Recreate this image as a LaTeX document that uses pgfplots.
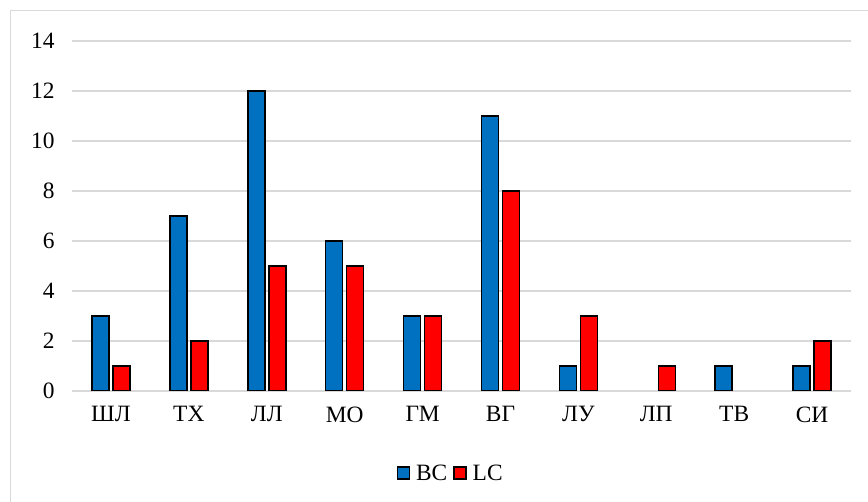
\documentclass[border=0pt]{standalone}
\usepackage{pgfplots}
\pgfplotsset{compat=1.18}
\usepackage{fontspec}
\setmainfont{Liberation Serif}
\definecolor{bcblue}{RGB}{0,112,192}
\definecolor{lcred}{RGB}{255,0,0}
\definecolor{gridgray}{RGB}{217,217,217}
\newcommand{\chartfont}{\fontsize{23.5}{28}\selectfont}
\begin{document}
\begin{tikzpicture}[x=1bp,y=1bp]
\useasboundingbox (0,0) rectangle (868,502);
\draw[gridgray, line width=1bp] (10,0) -- (10,491) -- (868,491);
\begin{axis}[
  at={(72bp,111bp)}, anchor=south west,
  scale only axis, width=779bp, height=350bp,
  ybar=4bp, bar width=17bp,
  xmin=-0.5, xmax=9.5, ymin=0, ymax=14,
  ytick={0,2,...,14},
  xtick={0,...,9},
  xticklabels={ШЛ,ТХ,ЛЛ,МО,ГМ,ВГ,ЛУ,ЛП,ТВ,СИ},
  axis line style={draw=none},
  major tick length=0pt,
  ymajorgrids, grid style={gridgray, line width=1.2bp},
  tick label style={font=\chartfont},
  /pgf/number format/assume math mode=true,
  yticklabel style={xshift=-14bp},
  xticklabel style={yshift=-12bp},
  legend style={at={(0.486,-0.235)}, anchor=center, draw=none,
    font=\chartfont, column sep=4bp},
  legend columns=-1,
  legend image code/.code={\draw[#1, line width=1.5bp] (0bp,-6bp) rectangle (12bp,6bp);},
  every axis plot/.append style={draw=black, line width=1.5bp},
]
\addplot[fill=bcblue] coordinates {(0,3) (1,7) (2,12) (3,6) (4,3) (5,11) (6,1) (8,1) (9,1)};
\addplot[fill=lcred] coordinates {(0,1) (1,2) (2,5) (3,5) (4,3) (5,8) (6,3) (7,1) (9,2)};
\legend{BC,LC}
\end{axis}
\end{tikzpicture}
\end{document}
